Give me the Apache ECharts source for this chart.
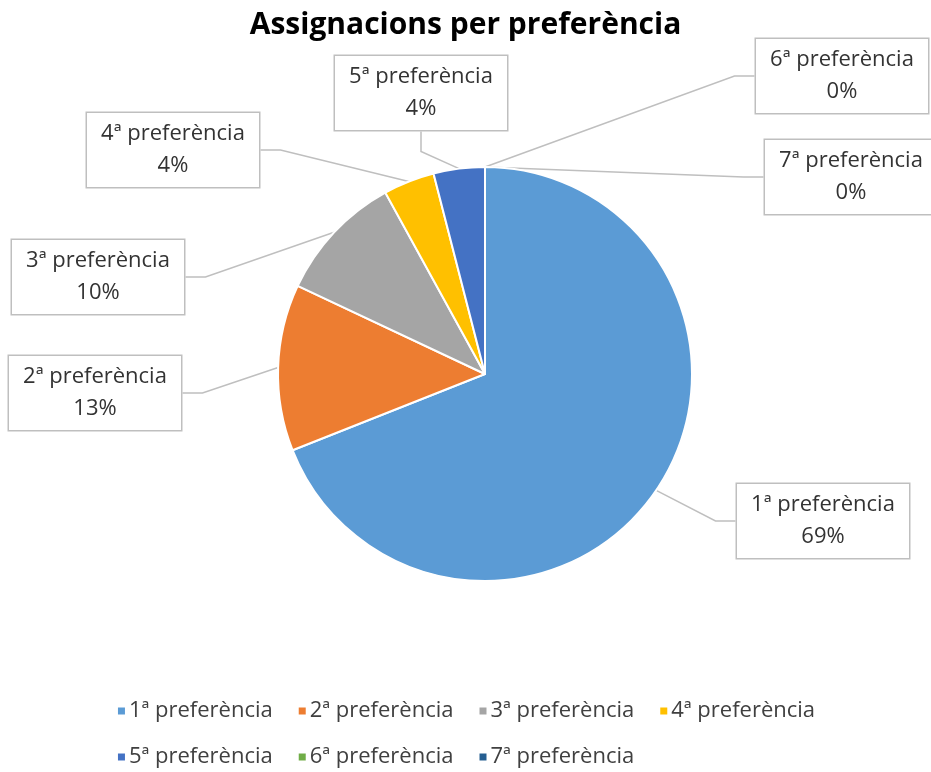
<!DOCTYPE html>
<html>
<head>
<meta charset="utf-8">
<script src="https://cdn.jsdelivr.net/npm/echarts@6/dist/echarts.min.js"></script>
<style>
  html, body { margin: 0; padding: 0; background: #fff; }
  #chart { width: 931px; height: 772px; }
</style>
</head>
<body>
<div id="chart"></div>
<script>
// Assignments by preference rank (percent of total)
const categories = ['1ª preferència', '2ª preferència', '3ª preferència', '4ª preferència',
                    '5ª preferència', '6ª preferència', '7ª preferència'];
const shares = [69, 13, 10, 4, 4, 0, 0];
const sliceColors = ['#5B9BD5', '#ED7D31', '#A5A5A5', '#FFC000', '#4472C4', '#70AD47', '#255E91'];

// Callout box centres
const calloutPos = [
  [823, 521], [95, 393], [98, 277], [173, 150], [421, 93], [842, 76], [851, 177]
];

const FONT = 'Open Sans';

const chart = echarts.init(document.getElementById('chart'), null, { renderer: 'canvas' });

chart.setOption({
  backgroundColor: '#ffffff',
  animation: false,
  color: sliceColors,
  title: {
    text: 'Assignacions per preferència',
    left: 'center',
    top: 5,
    textStyle: { fontFamily: FONT, fontWeight: 'bold', fontSize: 30, color: '#000' }
  },
  legend: {
    left: 'center',
    top: 695,
    width: 790,
    icon: 'rect',
    itemWidth: 9,
    itemHeight: 9,
    itemGap: 24,
    textStyle: { fontFamily: FONT, fontSize: 22, color: '#404040', lineHeight: 22, padding: [0, 0, 0, -2] },
    data: categories
  },
  series: [{
    type: 'pie',
    center: [485, 374],
    radius: 207,
    startAngle: 90,
    clockwise: true,
    avoidLabelOverlap: false,
    itemStyle: { borderColor: '#ffffff', borderWidth: 2 },
    label: {
      show: true,
      formatter: '{b}\n{c}%',
      fontFamily: FONT,
      fontSize: 22,
      lineHeight: 32,
      color: '#333333',
      align: 'center',
      backgroundColor: '#ffffff',
      borderColor: '#BFBFBF',
      borderWidth: 1.5,
      width: 150,
      padding: [5, 11, 5, 11]
    },
    labelLine: {
      show: true,
      length: 20,
      length2: 20,
      lineStyle: { color: '#BFBFBF', width: 1.5 }
    },
    labelLayout: function (params) {
      const p = calloutPos[params.dataIndex];
      return { x: p[0], y: p[1], align: 'center', verticalAlign: 'middle' };
    },
    data: categories.map((name, i) => ({ name: name, value: shares[i] }))
  }]
});
</script>
</body>
</html>
